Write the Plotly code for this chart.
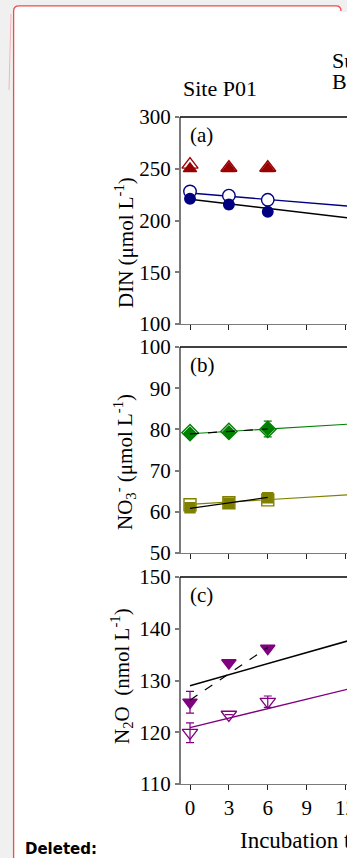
import plotly.graph_objects as go

# ---------------- data ----------------
hours = [0, 3, 6]
x_ticks = [0, 3, 6, 9, 12]

# (a) DIN, umol/L
din_ticks = [100, 150, 200, 250, 300]
din_tri_open = [254, 251, 251]
din_tri_fill = [250, 250, 250]
din_circ_open = [228, 224, 220]
din_circ_open_err = [0, 0, 3.5]
din_circ_fill = [221, 215.5, 208.5]
din_circ_fill_err = [0, 4, 0]
din_open_fit = [226.5, -1.03]      # intercept, slope (per h)
din_fill_fit = [220.5, -1.47]

# (b) NO3-, umol/L
no3_ticks = [50, 60, 70, 80, 90, 100]
no3_dia_open = [79.2, 79.5, 80.0]
no3_dia_fill = [79.0, 79.3, 80.1]
no3_dia_fill_err = [0, 0, 1.9]
no3_sq_open = [61.7, 62.2, 62.9]
no3_sq_fill = [61.0, 62.1, 63.4]
no3_dia_open_fit = [78.95, 0.19]
no3_dia_fill_fit06 = [78.9, 0.20]
no3_sq_open_fit = [61.8, 0.19]
no3_sq_fill_fit06 = [60.85, 0.44]

# (c) N2O, nmol/L
n2o_ticks = [110, 120, 130, 140, 150]
n2o_tri_fill = [125.8, 133.4, 136.2]
n2o_tri_fill_err = [2.1, 0, 0]
n2o_tri_open = [119.9, 123.4, 125.9]
n2o_tri_open_err = [1.9, 0, 1.1]
n2o_fill_fit = [129.0, 0.71]
n2o_fill_fit06 = [126.2, 1.70]
n2o_open_fit = [120.9, 0.61]

# ---------------- styling ----------------
W, H = 347, 858
SERIF = "Liberation Serif, Times New Roman, serif"
DRED, NAVY, GREEN, OLIVE, PURPLE = "#990000", "#000080", "#008000", "#808000", "#800080"
AX_GRAY = "#7a7a7a"

x_left_px, x0_px, px_per_h = 181, 190, 12.96
x_range = [-(x0_px - x_left_px) / px_per_h, (W - x0_px) / px_per_h]

panels = [  # (top px, bottom px)
    (117, 324),
    (347, 553),
    (577, 784),
]

def dom(top, bot):
    return [(H - bot) / H, (H - top) / H]

fig = go.Figure()

def pts(xa, ya, y, color, symbol, size, fill, err=None, lw=1.4):
    kw = {}
    if err is not None:
        kw["error_y"] = dict(type="data", array=err, visible=True, color=color,
                             thickness=1.2, width=4)
    fig.add_trace(go.Scatter(
        x=hours, y=y, xaxis=xa, yaxis=ya, mode="markers", showlegend=False,
        marker=dict(symbol=symbol, size=size, color=fill,
                    line=dict(color=color, width=lw)), **kw))

def fit(xa, ya, p, color, x_end=30, dash="solid", width=1.4):
    xs = [0, x_end]
    ys = [p[0] + p[1] * xx for xx in xs]
    fig.add_trace(go.Scatter(x=xs, y=ys, xaxis=xa, yaxis=ya, mode="lines",
                             showlegend=False, line=dict(color=color, width=width, dash=dash)))

# (a)
fit("x", "y", din_open_fit, NAVY)
fit("x", "y", din_fill_fit, "black", width=1.6)
pts("x", "y", din_tri_open, DRED, "triangle-up", 14, "white")
pts("x", "y", din_tri_fill, DRED, "triangle-up", 11.5, DRED)
pts("x", "y", din_circ_open, NAVY, "circle", 12.5, "white", din_circ_open_err)
pts("x", "y", din_circ_fill, NAVY, "circle", 10.5, NAVY, din_circ_fill_err)

# (b)
fit("x2", "y2", no3_dia_open_fit, GREEN, width=1.2)
fit("x2", "y2", no3_sq_open_fit, OLIVE, width=1.2)
pts("x2", "y2", no3_dia_open, GREEN, "diamond", 12.5, "white")
pts("x2", "y2", no3_dia_fill, GREEN, "diamond", 9.5, GREEN, no3_dia_fill_err)
pts("x2", "y2", no3_sq_open, OLIVE, "square", 12, "white")
pts("x2", "y2", no3_sq_fill, OLIVE, "square", 10, OLIVE)
fit("x2", "y2", no3_dia_fill_fit06, "black", x_end=6, dash="dash", width=1.2)
fit("x2", "y2", no3_sq_fill_fit06, "black", x_end=6, width=1.2)

# (c)
fit("x3", "y3", n2o_open_fit, PURPLE, width=1.4)
fit("x3", "y3", n2o_fill_fit, "black", width=1.6)
pts("x3", "y3", n2o_tri_open, PURPLE, "triangle-down-open", 13.5, PURPLE, n2o_tri_open_err, lw=1.3)
pts("x3", "y3", n2o_tri_fill, PURPLE, "triangle-down", 12.5, PURPLE, n2o_tri_fill_err)
fit("x3", "y3", n2o_fill_fit06, "black", x_end=6, dash="dash", width=1.2)

tickfont = dict(family=SERIF, size=21, color="black")
xdom = [x_left_px / W, 1.0]
yticks = [din_ticks, no3_ticks, n2o_ticks]
for i, (top, bot) in enumerate(panels):
    s = "" if i == 0 else str(i + 1)
    tv = yticks[i]
    fig.layout["xaxis" + s] = dict(
        domain=xdom, range=x_range, anchor="y" + s, tickvals=x_ticks,
        showticklabels=(i == 2), ticks="outside", ticklen=5, tickwidth=1,
        tickcolor="#222", showline=True, linecolor=AX_GRAY, linewidth=1,
        showgrid=False, zeroline=False, tickfont=tickfont, fixedrange=True,
        automargin=False, ticklabeloverflow="allow")
    fig.layout["yaxis" + s] = dict(
        domain=dom(top, bot), range=[tv[0], tv[-1]], anchor="x" + s, tickvals=tv,
        ticks="outside", ticklen=4, tickwidth=1.5, tickcolor=AX_GRAY,
        showline=True, linecolor=AX_GRAY, linewidth=2, showgrid=False,
        zeroline=False, tickfont=tickfont, ticklabelstandoff=0, fixedrange=True,
        automargin=False)

shapes = [
    # comment balloon (white with red edge)
    dict(type="path", xref="paper", yref="paper", layer="below",
         path=f"M {14/W} -0.01 L {14/W} {1-11/H} Q {14/W} {1-6/H} {19/W} {1-6/H} "
              f"L {336/W} {1-6/H} Q {341/W} {1-6/H} {341/W} {1-11/H} L {341/W} {1-12/H} "
              f"L 1.02 {1-12/H} L 1.02 -0.01 Z",
         fillcolor="white", line=dict(width=0)),
    dict(type="path", xref="paper", yref="paper", layer="below",
         path=f"M {13.6/W} -0.01 L {13.6/W} {1-11/H} Q {13.6/W} {1-5.8/H} {19/W} {1-5.8/H} "
              f"L {336/W} {1-5.8/H} Q {341/W} {1-5.8/H} {341/W} {1-11/H}",
         line=dict(color="#f04a4a", width=1.3)),
    dict(type="line", xref="paper", yref="paper", layer="below",
         x0=11/W, y0=1-14/H, x1=9/W, y1=1-90/H, line=dict(color="#f5b5b5", width=1)),
]
for top, bot in panels:
    shapes.append(dict(type="line", xref="paper", yref="paper",
                       x0=(x_left_px - 1) / W, x1=1.0, y0=1 - top / H, y1=1 - top / H,
                       line=dict(color="black", width=1.3)))

def ann(text, x, y, size, xanchor="center", angle=0, family=SERIF):
    return dict(text=text, x=x / W, y=1 - y / H, xref="paper", yref="paper",
                xanchor=xanchor, yanchor="middle", showarrow=False, textangle=angle,
                font=dict(family=family, size=size, color="black"))

annotations = [
    ann("Site P01", 181, 89, 22, xanchor="left"),
    ann("Surface", 329.5, 61, 22, xanchor="left"),
    ann("Bottom", 329.5, 81.5, 22, xanchor="left"),
    ann("(a)", 187.5, 135, 21, xanchor="left"),
    ann("(b)", 187.5, 365, 21, xanchor="left"),
    ann("(c)", 187.5, 595, 21, xanchor="left"),
    ann("DIN (μmol L<sup>-1</sup>)", 124, 243, 21, angle=-90),
    ann("NO<sub>3</sub><sup>-</sup> (μmol L<sup>-1</sup>)", 124, 462, 21, angle=-90),
    ann("N<sub>2</sub>O  (nmol L<sup>-1</sup>)", 121, 676, 21, angle=-90),
    ann("Incubation time (h)", 237.5, 840.5, 23, xanchor="left"),
    ann("<b>Deleted:</b>", 23, 849, 15, xanchor="left", family="DejaVu Sans, Verdana, sans-serif"),
]

fig.update_layout(
    width=W, height=H, autosize=False,
    margin=dict(l=0, r=0, t=0, b=0, pad=0, autoexpand=False),
    paper_bgcolor="#f0f0f0", plot_bgcolor="rgba(0,0,0,0)",
    shapes=shapes, annotations=annotations, showlegend=False,
    font=dict(family=SERIF, color="black"),
)

fig.write_html("out.html", config={"displayModeBar": False})
